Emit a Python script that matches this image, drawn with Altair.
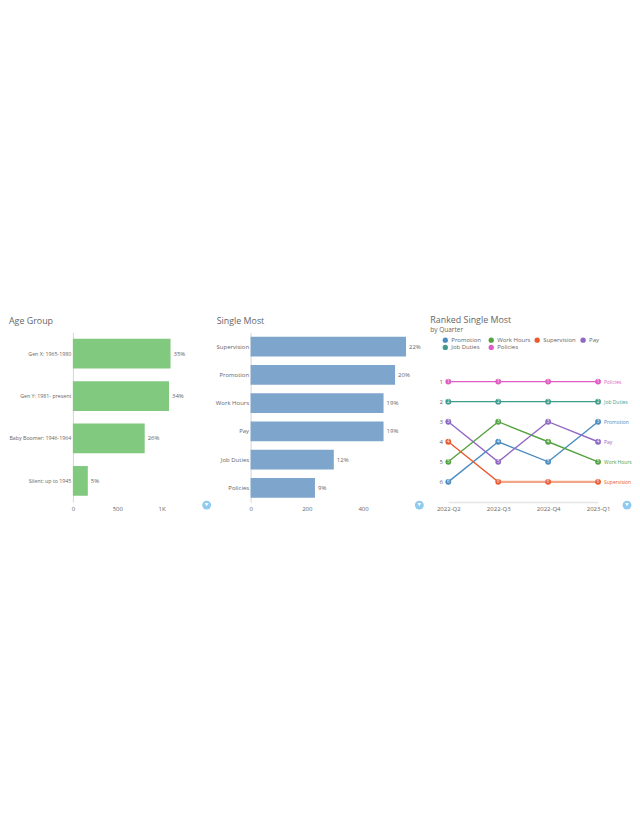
import altair as alt
import pandas as pd

FONT = "Open Sans"
TXT = "#666666"

age_groups = ["Gen X: 1965-1980", "Gen Y: 1981- present", "Baby Boomer: 1946-1964", "Silent: up to 1945"]
age_values = [1100, 1083, 809, 168]
age_labels = ["35%", "34%", "26%", "5%"]

topics = ["Supervision", "Promotion", "Work Hours", "Pay", "Job Duties", "Policies"]
topic_values = [553, 514, 473, 473, 296, 229]
topic_labels = ["22%", "20%", "19%", "19%", "12%", "9%"]

quarters = ["2022-Q2", "2022-Q3", "2022-Q4", "2023-Q1"]
series_names = ["Promotion", "Work Hours", "Supervision", "Pay", "Job Duties", "Policies"]
series_colors = ["#4a8cc0", "#55a340", "#ea5a2a", "#9068c4", "#3f9c8c", "#e05cc4"]
promotion_rank = [6, 4, 5, 3]
work_hours_rank = [5, 3, 4, 5]
supervision_rank = [4, 6, 6, 6]
pay_rank = [3, 5, 3, 4]
job_duties_rank = [2, 2, 2, 2]
policies_rank = [1, 1, 1, 1]
ranks = [promotion_rank, work_hours_rank, supervision_rank, pay_rank, job_duties_rank, policies_rank]

H = 170
ICON = "#8fcbf0"


def icon(px):
    circ = alt.Chart(pd.DataFrame({"a": [0]})).mark_point(
        filled=True, shape="circle", size=80, color=ICON, opacity=1
    ).encode(x=alt.value(px), y=alt.value(173))
    fun = alt.Chart(pd.DataFrame({"a": [0]})).mark_point(
        filled=True, shape="triangle-down", size=14, color="white", opacity=1
    ).encode(x=alt.value(px), y=alt.value(172.5))
    return circ + fun


def bar_panel(cats, vals, labels, title, color, w, dmax, ticks, px, cat_font):
    df = pd.DataFrame({"cat": cats, "val": vals, "lab": labels})
    x = alt.X(
        "val:Q",
        scale=alt.Scale(domain=[0, dmax], nice=False),
        axis=alt.Axis(
            values=ticks, title=None, grid=False, domain=False, ticks=False,
            labelFont=FONT, labelFontSize=6, labelColor=TXT, labelPadding=3, labelFlush=False,
            labelExpr="datum.value >= 1000 ? '1K' : datum.value",
        ),
    )
    y = alt.Y(
        "cat:N", sort=cats,
        scale=alt.Scale(paddingInner=0.3, paddingOuter=0.15),
        axis=alt.Axis(
            title=None, grid=False, ticks=False, domainColor="#d5d5d5", domainWidth=1,
            labelFont=FONT, labelFontSize=cat_font, labelColor=TXT, labelPadding=2, labelLimit=200,
        ),
    )
    bars = alt.Chart(df).mark_bar(color=color).encode(x=x, y=y)
    text = alt.Chart(df).mark_text(
        align="left", baseline="middle", dx=3, font=FONT, fontSize=6, color=TXT
    ).encode(x="val:Q", y=alt.Y("cat:N", sort=cats), text="lab:N")
    return (bars + text + icon(px)).properties(width=w, height=H, title=title)


t1 = alt.TitleParams("Age Group", anchor="start", frame="group", dx=-64, dy=-4,
                     font=FONT, fontSize=8.9, fontWeight="normal", color=TXT, offset=2)
t2 = alt.TitleParams("Single Most", anchor="start", frame="group", dx=-34, dy=-4,
                     font=FONT, fontSize=8.9, fontWeight="normal", color=TXT, offset=2)
t3 = alt.TitleParams("Ranked Single Most", subtitle="by Quarter", anchor="start", frame="group",
                     dx=-18, dy=3.5, font=FONT, fontSize=8.9, fontWeight="normal", color=TXT, offset=2,
                     subtitleFont=FONT, subtitleFontSize=6.5, subtitleColor=TXT, subtitlePadding=2)

p1 = bar_panel(age_groups, age_values, age_labels, t1, "#80c97f", 178, 178 / 0.0889, [0, 500, 1000], 134, 5.3)
p2 = bar_panel(topics, topic_values, topic_labels, t2, "#7ea6cc", 197.7, 197.7 / 0.2815, [0, 200, 400], 169, 6)

rows = []
for name, rk in zip(series_names, ranks):
    for q, r in zip(quarters, rk):
        rows.append({"series": name, "quarter": q, "rank": r})
long_df = pd.DataFrame(rows)
end_df = long_df[long_df.quarter == quarters[-1]]
flat_df = long_df[(long_df.series == "Supervision") & (long_df.quarter != quarters[0])]

color = alt.Color(
    "series:N",
    scale=alt.Scale(domain=series_names, range=series_colors),
    legend=alt.Legend(
        orient="none", legendX=-6, legendY=4.8, direction="horizontal", columns=4, title=None,
        symbolType="circle", symbolSize=28, symbolOpacity=1, labelFont=FONT, labelFontSize=6,
        labelColor=TXT, columnPadding=3, rowPadding=1.3, symbolStrokeWidth=0, labelOffset=3,
        gridAlign="all", padding=0,
    ),
)
x3 = alt.X("quarter:N", sort=quarters, scale=alt.Scale(padding=0), axis=alt.Axis(
    title=None, labelAngle=0, grid=False, ticks=False, domainColor="#e6e6e6", domainWidth=1.5,
    labelFont=FONT, labelFontSize=6, labelColor=TXT, labelPadding=3, labelFlush=False,
))
y3 = alt.Y("rank:Q", scale=alt.Scale(domain=[-1.456, 7.01], reverse=True, nice=False, zero=False), axis=alt.Axis(
    values=[1, 2, 3, 4, 5, 6], title=None, grid=False, ticks=False, domain=False, format="d",
    labelFont=FONT, labelFontSize=6, labelColor=TXT, labelPadding=6,
))
base = alt.Chart(long_df)
lines = base.mark_line(strokeWidth=1.4).encode(x=x3, y=y3, color=color, detail="series:N")
flat = alt.Chart(flat_df).mark_line(strokeWidth=2.4, color="#f3a686").encode(x=x3, y=y3)
pts = base.mark_point(filled=True, size=34, opacity=1, shape="circle").encode(x=x3, y=y3, color=alt.Color("series:N", legend=None))
nums = base.mark_text(font=FONT, fontSize=4.5, color="white", baseline="middle", align="center").encode(x=x3, y=y3, text="rank:Q")
ends = alt.Chart(end_df).mark_text(font=FONT, fontSize=5, align="left", baseline="middle", dx=6).encode(
    x=x3, y=y3, text="series:N", color=alt.Color("series:N", legend=None))
p3 = (lines + flat + pts + nums + ends + icon(179)).properties(width=150, height=H, title=t3)

chart = alt.hconcat(p1, p2, p3, spacing=0, bounds="flush").resolve_scale(
    color="independent"
).properties(
    padding={"left": 0, "top": 308.5, "right": 0, "bottom": 0}
).configure_view(stroke=None)

chart.save("out.html", embed_options={"renderer": "svg", "actions": False})
